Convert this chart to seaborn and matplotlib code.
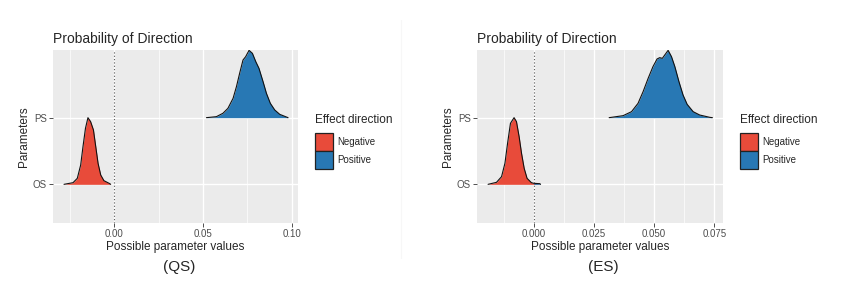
import numpy as np
import matplotlib.pyplot as plt
import seaborn as sns
from matplotlib.patches import Patch
from matplotlib.ticker import MultipleLocator

params = ["OS", "PS"]
directions = ["Negative", "Positive"]
dir_colors = {"Negative": "#E84B3A", "Positive": "#2878B4"}

# QS panel - ridge outlines (x value, height in row units)
qs_os_x = [-0.0284, -0.0233, -0.0209, -0.0190, -0.0177, -0.0163, -0.0149, -0.0134,
           -0.0118, -0.0105, -0.0092, -0.0077, -0.0059, -0.0026, -0.0021]
qs_os_h = [0.0, 0.025, 0.09, 0.29, 0.565, 0.84, 1.0, 0.94,
           0.815, 0.565, 0.315, 0.14, 0.055, 0.01, 0.0]
qs_ps_x = [0.0519, 0.0575, 0.0612, 0.0640, 0.0669, 0.0688, 0.0706, 0.0725, 0.0740,
           0.0759, 0.0778, 0.0797, 0.0815, 0.0838, 0.0857, 0.0879, 0.0904, 0.0932, 0.0979]
qs_ps_h = [0.0, 0.015, 0.066, 0.14, 0.29, 0.465, 0.665, 0.865, 0.915,
           1.01, 0.965, 0.84, 0.74, 0.54, 0.365, 0.215, 0.115, 0.05, 0.0]

# ES panel
es_os_x = [-0.0190, -0.0155, -0.0134, -0.0120, -0.0109, -0.0097, -0.0082, -0.0072,
           -0.0061, -0.0051, -0.0040, -0.0028, -0.0010, 0.0, 0.0025, 0.0028]
es_os_h = [0.0, 0.03, 0.115, 0.315, 0.615, 0.915, 1.0, 0.94,
           0.715, 0.465, 0.24, 0.09, 0.025, 0.015, 0.01, 0.0]
es_ps_x = [0.0313, 0.0371, 0.0406, 0.0433, 0.0454, 0.0475, 0.0495, 0.0512, 0.0523,
           0.0534, 0.0544, 0.0558, 0.0572, 0.0586, 0.0603, 0.0620, 0.0637, 0.0662,
           0.0689, 0.0731, 0.0742]
es_ps_h = [0.0, 0.03, 0.09, 0.215, 0.39, 0.59, 0.765, 0.88, 0.90,
           0.89, 0.94, 1.01, 0.915, 0.765, 0.54, 0.34, 0.20, 0.09,
           0.04, 0.005, 0.0]

panels = [
    {"caption": "(QS)", "ridges": [(qs_os_x, qs_os_h), (qs_ps_x, qs_ps_h)],
     "xlim": (-0.0346, 0.1035), "major": 0.05, "fmt": "{:.2f}",
     "rect": [53 / 843, 1 - 223 / 297, 245 / 843, 173 / 297]},
    {"caption": "(ES)", "ridges": [(es_os_x, es_os_h), (es_ps_x, es_ps_h)],
     "xlim": (-0.0236, 0.0786), "major": 0.025, "fmt": "{:.3f}",
     "rect": [477 / 843, 1 - 223 / 297, 246 / 843, 173 / 297]},
]

sns.set_style("white")
plt.rcParams["font.family"] = ["Liberation Sans", "DejaVu Sans"]

fig = plt.figure(figsize=(8.43, 2.97), dpi=100)

for p in panels:
    ax = fig.add_axes(p["rect"])
    ax.set_facecolor("#EBEBEB")
    for s in ax.spines.values():
        s.set_visible(False)

    ax.set_xlim(*p["xlim"])
    ax.set_ylim(0.42, 3.015)
    ax.xaxis.set_major_locator(MultipleLocator(p["major"]))
    ax.xaxis.set_minor_locator(MultipleLocator(p["major"] / 2))
    ax.grid(which="major", axis="x", color="white", lw=1.0)
    ax.grid(which="minor", axis="x", color="white", lw=0.5)
    ax.set_axisbelow(True)
    for lvl in range(1, len(params) + 1):
        ax.axhline(lvl, color="white", lw=1.0, zorder=0.5)

    ticks = ax.get_xticks()
    ticks = [t for t in ticks if p["xlim"][0] <= t <= p["xlim"][1]]
    ax.set_xticks(ticks)
    ax.set_xticklabels([p["fmt"].format(t) for t in ticks])
    ax.set_yticks(range(1, len(params) + 1))
    ax.set_yticklabels(params)
    ax.tick_params(axis="both", which="major", length=3, width=0.6, color="#333333",
                   labelsize=7, labelcolor="#4D4D4D", pad=1.5, left=True, bottom=True)
    ax.tick_params(axis="x", which="minor", length=0)

    ax.axvline(0, color="#555555", lw=0.8, ls=(0, (1, 2)), zorder=1)

    # draw ridges top row first so lower rows sit in front
    for i in reversed(range(len(params))):
        xs, hs = p["ridges"][i]
        xs = np.array(xs)
        base = i + 1
        ys = base + np.array(hs)
        ax.fill_between(xs, base, ys, where=xs <= 0, interpolate=True,
                        color=dir_colors["Negative"], lw=0, zorder=2 + (2 - i))
        ax.fill_between(xs, base, ys, where=xs >= 0, interpolate=True,
                        color=dir_colors["Positive"], lw=0, zorder=2 + (2 - i))
        sns.lineplot(x=xs, y=ys, sort=False, estimator=None, color="#111111",
                     lw=0.8, ax=ax, zorder=2.5 + (2 - i))

    ax.set_xlabel("Possible parameter values", fontsize=8.5, labelpad=1)
    ax.set_ylabel("Parameters", fontsize=8.5, labelpad=2)
    ax.set_title("Probability of Direction", loc="left", fontsize=10, pad=5)

    handles = [Patch(facecolor=dir_colors[d], edgecolor="#222222", lw=0.9) for d in directions]
    leg = ax.legend(handles, directions, title="Effect direction", loc="upper left",
                    bbox_to_anchor=(1.07, 0.63), frameon=False, fontsize=7,
                    title_fontsize=8.5, handlelength=1.85, handleheight=2.45,
                    handletextpad=0.45, labelspacing=0.0, borderaxespad=0,
                    borderpad=0)
    leg._legend_box.align = "left"
    leg._legend_box.sep = 5

    x0, _, w, _ = p["rect"]
    fig.text(x0 + w * 0.515, 1 - 267 / 297, p["caption"], ha="center", va="center",
             fontsize=11)

fig.add_artist(plt.Line2D([401 / 843, 401 / 843], [1 - 258 / 297, 1 - 20 / 297],
                          color="#F7F7F7", lw=0.8))

fig.savefig("out.png", dpi=100)
